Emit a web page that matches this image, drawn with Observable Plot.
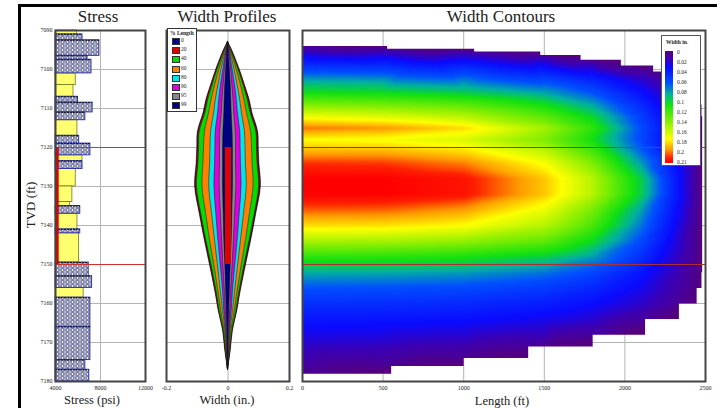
<!DOCTYPE html>
<html>
<head>
<meta charset="utf-8">
<script src="https://cdn.jsdelivr.net/npm/d3@7"></script>
<script src="https://cdn.jsdelivr.net/npm/@observablehq/plot@0.6"></script>
<style>
  body { margin: 0; background: #fff; }
  #root { position: relative; width: 717px; height: 408px; overflow: hidden; background: #fff; font-family: "Liberation Serif", "Times New Roman", "DejaVu Serif", serif; color: #222; }
  #root * { font-family: "Liberation Serif", "Times New Roman", "DejaVu Serif", serif; }
  .abs { position: absolute; }
  .title { position: absolute; font-size: 17px; top: 7px; white-space: nowrap; transform: translateX(-50%); }
  .axlab { position: absolute; font-size: 12.5px; line-height: 1; white-space: nowrap; transform: translateX(-50%); }
  .lgtxt { position: absolute; font-size: 5.5px; white-space: nowrap; line-height: 1; }
</style>
</head>
<body>
<svg width="0" height="0" style="position:absolute">
  <defs>
    <pattern id="shale" width="5" height="4" patternUnits="userSpaceOnUse">
      <rect width="5" height="4" fill="#b0b4d6"></rect>
      <circle cx="2.5" cy="2" r="1.5" fill="#f0f0fa" stroke="#3a3a5a" stroke-width="0.7"></circle>
    </pattern>
  </defs>
</svg>
<div id="root">
  <div class="abs" style="left:18px;top:4px;width:720px;height:420px;border-left:3px solid #000;border-top:3px solid #000;box-sizing:border-box;"></div>
  <div id="p1" class="abs" style="left:0;top:0"></div>
  <div id="p2" class="abs" style="left:150px;top:0"></div>
  <div id="p3" class="abs" style="left:300px;top:0"></div>
  <div class="title" style="left:98px">Stress</div>
  <div class="title" style="left:227px">Width Profiles</div>
  <div class="title" style="left:501px">Width Contours</div>
  <div class="axlab" style="left:92px;top:394px">Stress (psi)</div>
  <div class="axlab" style="left:227px;top:394px">Width (in.)</div>
  <div class="axlab" style="left:502px;top:395px">Length (ft)</div>
  <div class="abs" style="left:31px;top:205px;font-size:13px;white-space:nowrap;transform:translate(-50%,-50%) rotate(-90deg)">TVD (ft)</div>
  <div id="lg1" class="abs" style="left:167px;top:28px;width:30px;height:84px;background:#fff;border:1px solid #333;box-sizing:border-box;"></div>
  <div id="lg2" class="abs" style="left:661px;top:35px;width:40px;height:131px;background:#fff;border:1px solid #555;box-sizing:border-box;"></div>
</div>
<script>
// ---------------- axes / ticks ----------------
const depthTicks = [7090, 7100, 7110, 7120, 7130, 7140, 7150, 7160, 7170, 7180];
const stressTicks = [4000, 8000, 12000];
const widthTicks = [-0.2, 0, 0.2];
const lengthTicks = [0, 500, 1000, 1500, 2000, 2500];
const payTop = 7120, payBottom = 7150;
const perfStress = 4150;

// ---------------- stress profile ----------------
const layerTop =    [7090, 7091, 7092.5, 7096.5, 7097.5, 7101, 7104, 7107, 7108.5, 7111, 7113, 7117, 7119, 7122, 7123.5, 7125.5, 7130, 7134, 7135, 7137, 7141, 7142, 7149.5, 7153, 7156, 7158.5, 7166, 7174.5, 7177];
const layerStress = [5900, 6400, 7900, 6850, 7200, 5800, 5600, 6000, 7300, 6650, 5950, 6100, 7100, 6400, 6400, 5800, 5500, 5300, 6200, 5950, 6200, 6100, 6950, 7250, 6500, 7100, 7100, 6650, 7000];
const layerRock =   ["sand","shale","shale","shale","shale","sand","sand","shale","shale","shale","sand","shale","shale","sand","shale","sand","sand","sand","shale","sand","shale","sand","shale","shale","sand","shale","shale","shale","shale"];
const stressBottom = 7180;

// ---------------- width profiles (half widths, in.) ----------------
const profileDepths = [7093, 7095, 7100, 7104, 7108, 7111, 7116, 7120, 7124, 7130, 7137, 7144, 7150, 7157, 7162, 7167, 7172, 7177];
const profilePct = ["0", "20", "40", "60", "80", "90", "95", "99"];
const profileColors = ["#000090", "#e00000", "#00dd00", "#ff8000", "#00e5e5", "#e000e0", "#888888", "#000080"];
const w0  = [0, .013, .038, .055, .071, .079, .098, .100, .102, .107, .092, .075, .059, .041, .030, .016, .009, 0];
const w20 = [0, .012, .037, .054, .069, .077, .096, .098, .100, .105, .090, .073, .057, .040, .029, .015, .008, 0];
const w40 = [0, .010, .034, .050, .065, .073, .092, .094, .096, .101, .087, .070, .054, .037, .027, .014, .007, 0];
const w60 = [0, .008, .028, .042, .054, .061, .075, .078, .080, .083, .071, .058, .045, .031, .022, .011, .006, 0];
const w80 = [0, .006, .021, .031, .040, .045, .055, .057, .058, .061, .052, .042, .033, .023, .016, .008, .004, 0];
const w90 = [0, .005, .015, .023, .029, .032, .040, .041, .042, .044, .038, .031, .024, .016, .012, .006, .003, 0];
const w95 = [0, .003, .010, .014, .018, .020, .025, .026, .026, .027, .023, .019, .015, .010, .007, .004, .002, 0];
const w99 = [0, .002, .006, .009, .011, .012, .015, .016, .016, .016, .014, .012, .009, .006, .004, .002, .001, 0];
const profileWidths = [w0, w20, w40, w60, w80, w90, w95, w99];

// ---------------- width contours (full width, in.) ----------------
const contourLengths = [0, 500, 1000, 1500, 1800, 2100, 2300];
const contourDepths = [7094, 7094.7, 7095.4, 7096.3, 7097.5, 7099, 7100.5, 7103, 7106, 7109, 7112, 7115, 7118, 7121, 7124, 7128, 7132, 7136, 7140, 7144, 7148, 7152, 7156, 7160, 7164, 7168, 7171, 7174, 7176, 7178];
const fracExtent =    [270, 780, 1350, 1600, 1850, 2100, 2250, 2380, 2440, 2470, 2480, 2480, 2480, 2480, 2480, 2480, 2480, 2480, 2480, 2480, 2480, 2480, 2470, 2420, 2250, 2000, 1600, 1200, 800, 300];
const contourWidths = [
  [0.008],
  [0.012, 0.008],
  [0.018, 0.015, 0.010],
  [0.025, 0.022, 0.018, 0.008],
  [0.035, 0.033, 0.028, 0.018],
  [0.045, 0.044, 0.040, 0.030, 0.018],
  [0.058, 0.056, 0.052, 0.040, 0.028, 0.010],
  [0.080, 0.078, 0.072, 0.058, 0.043, 0.022, 0.008],
  [0.100, 0.098, 0.092, 0.078, 0.060, 0.033, 0.014],
  [0.130, 0.127, 0.120, 0.100, 0.078, 0.043, 0.019],
  [0.160, 0.155, 0.145, 0.120, 0.095, 0.052, 0.024],
  [0.190, 0.185, 0.172, 0.140, 0.108, 0.058, 0.026],
  [0.165, 0.163, 0.155, 0.130, 0.100, 0.056, 0.025],
  [0.180, 0.180, 0.172, 0.148, 0.115, 0.064, 0.029],
  [0.198, 0.197, 0.188, 0.163, 0.130, 0.076, 0.034],
  [0.210, 0.210, 0.204, 0.176, 0.145, 0.092, 0.040],
  [0.210, 0.210, 0.204, 0.176, 0.145, 0.092, 0.040],
  [0.193, 0.192, 0.184, 0.160, 0.128, 0.077, 0.035],
  [0.172, 0.171, 0.165, 0.145, 0.116, 0.068, 0.031],
  [0.142, 0.141, 0.136, 0.122, 0.097, 0.057, 0.026],
  [0.108, 0.107, 0.103, 0.093, 0.076, 0.046, 0.021],
  [0.080, 0.079, 0.076, 0.068, 0.056, 0.035, 0.017],
  [0.060, 0.059, 0.057, 0.051, 0.042, 0.027, 0.013],
  [0.046, 0.045, 0.043, 0.038, 0.031, 0.020, 0.009],
  [0.035, 0.034, 0.032, 0.027, 0.021, 0.010],
  [0.026, 0.025, 0.022, 0.017, 0.009],
  [0.019, 0.017, 0.013, 0.004],
  [0.014, 0.011, 0.006],
  [0.010, 0.006],
  [0.005]
];
const colorbarLabels = ["0", "0.02", "0.04", "0.06", "0.08", "0.1", "0.12", "0.14", "0.16", "0.18", "0.2", "0.21"];
const widthStops = [0, 0.015, 0.03, 0.06, 0.08, 0.1, 0.135, 0.165, 0.185, 0.2, 0.21];
const colorStops = ["#55007f", "#3c00b4", "#0a0aff", "#0050ff", "#00b0a0", "#10e010", "#90f000", "#ffff00", "#ff9900", "#ff2000", "#ff0000"];

// ---------------- build tables ----------------
const layers = layerTop.map((t, i) => ({top: t, bottom: i + 1 < layerTop.length ? layerTop[i + 1] : stressBottom, stress: layerStress[i], rock: layerRock[i]}));
const sand = layers.filter(d => d.rock === "sand");
const shale = layers.filter(d => d.rock === "shale");

const maxW = 0.21;
const colorInterp = d3.scaleLinear().domain(widthStops.map(v => v / maxW)).range(colorStops).clamp(true);

const contourPoints = [];
contourDepths.forEach((d, i) => {
  contourWidths[i].forEach((w, j) => contourPoints.push({L: contourLengths[j], d, w}));
  contourPoints.push({L: fracExtent[i], d, w: 0});
});
const fracRows = contourDepths.map((d, i) => ({d, ext: fracExtent[i]}));

const serif = "'Liberation Serif', 'Times New Roman', 'DejaVu Serif', serif";
const baseStyle = {fontFamily: serif, fontSize: "6px", color: "#222", background: "none", overflow: "visible"};
const gridColor = "#b4b4b4";

// ---------------- Panel 1: stress ----------------
const p1 = Plot.plot({
  width: 150, height: 408, marginLeft: 55, marginRight: 5, marginTop: 30, marginBottom: 27,
  style: baseStyle,
  x: {domain: [4000, 12000], ticks: stressTicks, tickFormat: d => String(d), tickSize: 0, tickPadding: 4, label: null},
  y: {domain: [7090, 7180], reverse: true, ticks: depthTicks, tickFormat: d => String(d), tickSize: 0, tickPadding: 3, label: null},
  marks: [
    Plot.ruleY(depthTicks, {stroke: gridColor}),
    Plot.ruleX([8000], {stroke: gridColor}),
    Plot.rectX(sand, {y1: "top", y2: "bottom", x1: () => 4000, x2: "stress", fill: "#ffff70", stroke: "#6d7a1a", strokeWidth: 0.8}),
    Plot.rectX(shale, {y1: "top", y2: "bottom", x1: () => 4000, x2: "stress", fill: "url(#shale)", stroke: "#2e37a8", strokeWidth: 1}),
    Plot.ruleY(shale, {y: "top", x1: () => 4000, x2: "stress", stroke: "#111", strokeDasharray: "2,1", strokeWidth: 1}),
    Plot.ruleY([payTop, payBottom], {stroke: "#d03030"}),
    Plot.ruleX([perfStress], {y1: payTop, y2: payBottom, stroke: "#e00000", strokeWidth: 3}),
    Plot.frame({stroke: "#444", strokeWidth: 2})
  ]
});
document.getElementById("p1").appendChild(p1);

// ---------------- Panel 2: width profiles ----------------
const profileMarks = profileWidths.map((arr, k) => Plot.areaX(
  profileDepths.map((d, i) => ({d, lo: -arr[i], hi: arr[i]})),
  {y: "d", x1: "lo", x2: "hi", fill: profileColors[k], stroke: "#111", strokeWidth: 0.5, curve: "catmull-rom"}
));
const p2 = Plot.plot({
  width: 150, height: 408, marginLeft: 16, marginRight: 11, marginTop: 30, marginBottom: 27,
  style: baseStyle,
  x: {domain: [-0.2, 0.2], ticks: widthTicks, tickFormat: d => d === 0 ? "0" : String(d), tickSize: 0, tickPadding: 4, label: null},
  y: {domain: [7090, 7180], reverse: true, axis: null},
  marks: [
    Plot.ruleY(depthTicks, {stroke: gridColor}),
    Plot.ruleX([0], {stroke: gridColor}),
    ...profileMarks,
    Plot.ruleX([0], {y1: payTop, y2: payBottom, stroke: "#e00000", strokeWidth: 6}),
    Plot.frame({stroke: "#444", strokeWidth: 2})
  ]
});
document.getElementById("p2").appendChild(p2);

// ---------------- Panel 3: width contours ----------------
const p3 = Plot.plot({
  width: 417, height: 408, marginLeft: 2, marginRight: 12, marginTop: 30, marginBottom: 27,
  style: baseStyle,
  x: {domain: [0, 2500], ticks: lengthTicks, tickFormat: d => String(d), tickSize: 0, tickPadding: 4, label: null},
  y: {domain: [7090, 7180], reverse: true, axis: null},
  color: {type: "linear", domain: [0, maxW], interpolate: t => colorInterp(t)},
  marks: [
    Plot.ruleY(depthTicks, {stroke: gridColor}),
    Plot.ruleX(lengthTicks.slice(1, -1), {stroke: gridColor}),
    Plot.raster(contourPoints, {x: "L", y: "d", fill: "w", interpolate: "barycentric", x1: 0, x2: 2500, y1: 7090, y2: 7180}),
    Plot.areaX(fracRows, {y: "d", x1: () => 0, x2: "ext", curve: "step", fill: "none", stroke: "none"}),
    Plot.ruleY([payTop, payBottom], {stroke: "#a83030"}),
    Plot.frame({stroke: "#444", strokeWidth: 2})
  ]
});
document.getElementById("p3").appendChild(p3);
// clip the raster to the fracture outline
(function () {
  const ns = "http://www.w3.org/2000/svg";
  const rg = p3.querySelector('g[aria-label="raster"]');
  const ap = p3.querySelector('g[aria-label="area"] path');
  if (rg && ap) {
    const defs = document.createElementNS(ns, "defs");
    const cp = document.createElementNS(ns, "clipPath");
    cp.setAttribute("id", "fracClip");
    const path = document.createElementNS(ns, "path");
    path.setAttribute("d", ap.getAttribute("d"));
    const tr = ap.parentNode.getAttribute("transform");
    if (tr) path.setAttribute("transform", tr);
    cp.appendChild(path);
    defs.appendChild(cp);
    p3.insertBefore(defs, p3.firstChild);
    rg.setAttribute("clip-path", "url(#fracClip)");
  }
})();

// ---------------- Legends ----------------
const lg1 = document.getElementById("lg1");
lg1.innerHTML = '<div class="lgtxt" style="left:2px;top:2px;font-weight:bold">% Length</div>' +
  profilePct.map((p, i) =>
    `<div class="abs" style="left:4px;top:${9 + i * 9.2}px;width:6px;height:5px;background:${profileColors[i]};border:0.5px solid #333"></div>` +
    `<div class="lgtxt" style="left:13px;top:${9 + i * 9.2}px">${p}</div>`).join("");

const lg2 = document.getElementById("lg2");
const samples = d3.range(0, 1.0001, 0.02).map(t => `${colorInterp(t)} ${(t * 100).toFixed(1)}%`).join(",");
lg2.innerHTML = '<div class="lgtxt" style="left:4px;top:4px;font-weight:bold">Width in.</div>' +
  `<div class="abs" style="left:3px;top:15px;width:8px;height:112px;background:linear-gradient(to bottom, ${samples})"></div>` +
  colorbarLabels.map((s, i) => `<div class="lgtxt" style="left:15px;top:${14 + i * 10}px">${s}</div>`).join("");
</script>
</body>
</html>
